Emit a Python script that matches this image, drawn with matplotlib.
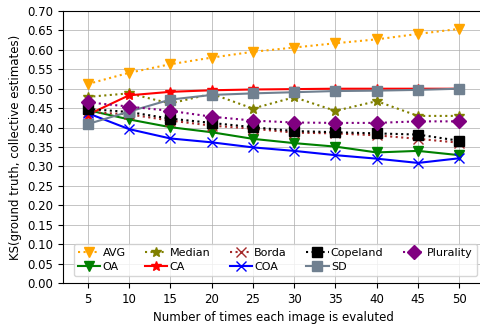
import matplotlib.pyplot as plt
import numpy as np

# number of times each image is evaluated
n_evals = [5, 10, 15, 20, 25, 30, 35, 40, 45, 50]

avg = [0.512, 0.541, 0.563, 0.580, 0.595, 0.606, 0.617, 0.627, 0.641, 0.654]
oa = [0.445, 0.421, 0.401, 0.388, 0.371, 0.360, 0.351, 0.336, 0.340, 0.329]
median = [0.479, 0.488, 0.462, 0.487, 0.449, 0.478, 0.443, 0.468, 0.430, 0.430]
ca = [0.433, 0.483, 0.492, 0.496, 0.498, 0.499, 0.500, 0.500, 0.500, 0.500]
borda = [0.440, 0.434, 0.418, 0.405, 0.397, 0.387, 0.385, 0.380, 0.371, 0.361]
coa = [0.437, 0.396, 0.372, 0.362, 0.349, 0.340, 0.329, 0.320, 0.309, 0.321]
copeland = [0.448, 0.440, 0.423, 0.412, 0.401, 0.391, 0.388, 0.385, 0.382, 0.366]
sd = [0.409, 0.441, 0.472, 0.484, 0.488, 0.491, 0.494, 0.495, 0.497, 0.500]
plurality = [0.465, 0.454, 0.443, 0.428, 0.418, 0.413, 0.412, 0.412, 0.416, 0.416]

fig = plt.figure(figsize=(4.8, 3.24), dpi=100)
ax = fig.add_axes([63 / 480, 41 / 324, 421 / 480, 272 / 324])

ms = 7
ax.plot(n_evals, avg, ':', color='orange', marker='v', ms=ms, label='AVG')
ax.plot(n_evals, oa, '-', color='green', marker='v', ms=ms, label='OA')
ax.plot(n_evals, median, ':', color='olive', marker='*', ms=ms, label='Median')
ax.plot(n_evals, ca, '-', color='red', marker='*', ms=ms, label='CA')
ax.plot(n_evals, borda, ':', color='brown', marker='x', ms=ms, label='Borda')
ax.plot(n_evals, coa, '-', color='blue', marker='x', ms=ms, label='COA')
ax.plot(n_evals, copeland, ':', color='black', marker='s', ms=ms, label='Copeland')
ax.plot(n_evals, sd, '-', color='slategray', marker='s', ms=ms, label='SD')
ax.plot(n_evals, plurality, ':', color='purple', marker='D', ms=ms, label='Plurality')

ax.set_xlim(2, 53)
ax.set_ylim(0, 0.7)
ax.set_xticks(n_evals)
ax.set_yticks(np.arange(0, 0.701, 0.05))
ax.yaxis.set_major_formatter(plt.FormatStrFormatter('%.2f'))
ax.tick_params(labelsize=8.5)

# soft wide grid with a thin darker line on top
ax.grid(True, color='lightgray', linewidth=2.5, alpha=0.8)
ax.grid(True, color='darkgray', linewidth=0.6)
ax.set_axisbelow(True)

ax.set_xlabel('Number of times each image is evaluted', fontsize=8.5)
ax.set_ylabel('KS(ground truth, collective estimates)', fontsize=8.5)

ax.legend(ncol=5, loc='lower left', bbox_to_anchor=(0.012, 0.005), fontsize=8,
          handlelength=2, handletextpad=0.2, columnspacing=1.75, borderpad=0.4,
          labelspacing=0.3)

fig.savefig('out.png', dpi=100)
